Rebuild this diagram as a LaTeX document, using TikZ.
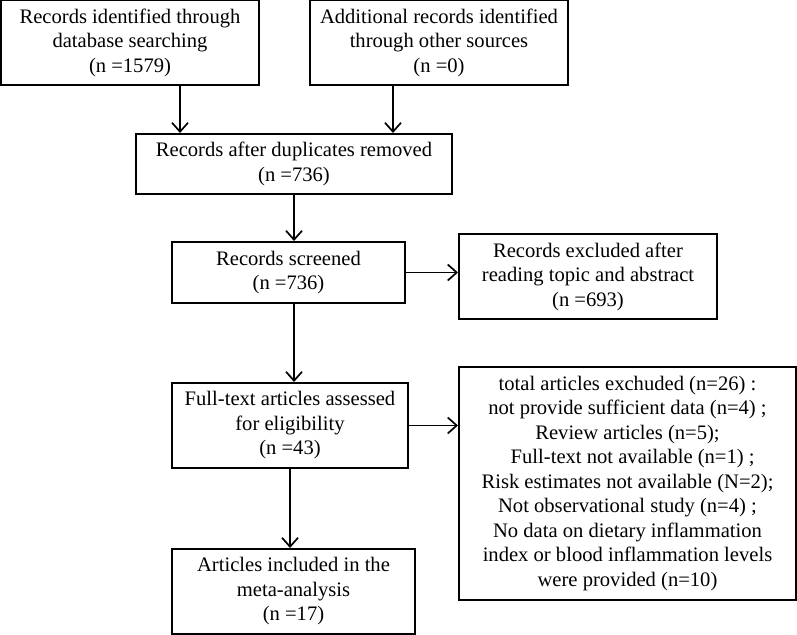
\documentclass[tikz,border=0pt]{standalone}
\usepackage{fontspec}
\setmainfont{Liberation Serif}
\usetikzlibrary{arrows.meta,positioning}

\begin{document}
\begin{tikzpicture}[x=0.5pt,y=-0.5pt,
        box/.style={draw,line width=1pt,inner sep=0pt,align=center,font=\fontsize{10.3}{12.25}\selectfont},
        arr/.style={line width=0.85pt,-{Straight Barb[length=4.5pt,width=8pt,line width=0.85pt]}}]
        \useasboundingbox(0,0)rectangle(797,635);
        % top row
        \node[box,minimum width=129pt,minimum height=42.5pt](db)at(130,42.5){Records identified through\\database searching\\(n =1579)};
        \node[box,minimum width=129pt,minimum height=42.5pt](other)at(439,42.5){Additional records identified\\through other sources\\(n =0)};
        \node[box,minimum width=158pt,minimum height=30pt](dup)at(294,164){Records after duplicates removed\\(n =736)};
        % screening
        \node[box,minimum width=116.5pt,minimum height=30.5pt](scr)at(288.5,272.5){Records screened\\(n =736)};
        \node[box,minimum width=129pt,minimum height=42.5pt](exa)at(588,276.5){Records excluded after\\reading topic and abstract\\(n =693)};
        % eligibility
        \node[box,minimum width=118pt,minimum height=42.5pt](full)at(290,425.5){Full-text articles assessed\\for eligibility\\(n =43)};
        \node[box,minimum width=168.5pt,minimum height=116.5pt](exb)at(627.5,483.5){total articles exchuded (n=26) :\\not provide sufficient data (n=4) ;\\Review articles (n=5);\\\ \ Full-text not available (n=1) ;\\Risk estimates not available (N=2);\\Not observational study (n=4) ;\\No data on dietary inflammation\\index or blood inflammation levels\\were provided (n=10)};
        % included
        \node[box,minimum width=121.5pt,minimum height=42.5pt](inc)at(293.5,591.5){Articles included in the\\meta-analysis\\(n =17)};
        % arrows
        \draw[arr]([xshift=25pt]db.south)--([xshift=25pt]db.south|-dup.north);
        \draw[arr]([xshift=-23pt]other.south)--([xshift=-23pt]other.south|-dup.north);
        \draw[arr](dup.south)--(dup.south|-scr.north);
        \draw[arr](dup.south|-scr.south)--(dup.south|-full.north);
        \draw[arr](full.south)--(full.south|-inc.north);
        \draw[arr](scr.east)--(scr.east-|exa.west);
        \draw[arr](full.east)--(full.east-|exb.west);
    \end{tikzpicture}
\end{document}
